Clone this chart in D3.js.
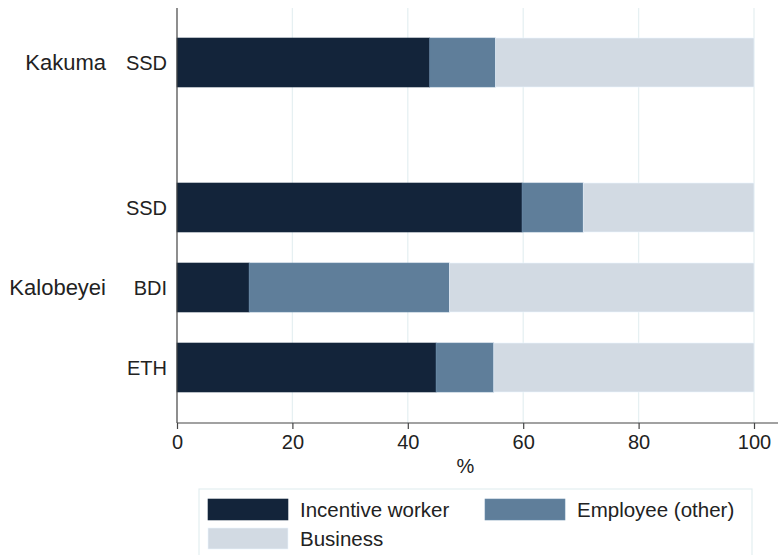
<!DOCTYPE html>
<html>
<head>
<meta charset="utf-8">
<script src="https://cdn.jsdelivr.net/npm/d3@7"></script>
<style>
  body { margin: 0; background: #fff; }
  text { font-family: "Liberation Sans", Arial, sans-serif; fill: #222; }
</style>
</head>
<body>
<script>
// data
var camps = ["Kakuma", "Kalobeyei", "Kalobeyei", "Kalobeyei"];
var countries = ["SSD", "SSD", "BDI", "ETH"];
var incentive = [43.8, 59.8, 12.5, 44.9];
var employee = [11.4, 10.6, 34.7, 10.0];
var business = [44.8, 29.6, 52.8, 45.1];
var seriesNames = ["Incentive worker", "Employee (other)", "Business"];
var colors = ["#13243a", "#5f7e9a", "#d2dae3"];
var xTicks = [0, 20, 40, 60, 80, 100];

var W = 778, H = 555;
var svg = d3.select("body").append("svg")
    .attr("width", W)
    .attr("height", H);

var x0 = 177, x1 = 754, plotTop = 8, plotBottom = 423;
var xScale = d3.scaleLinear().domain([0, 100]).range([x0, x1]);

// rows positioned by index plus an extra gap between camp groups
var groupIdx = [];
var g = 0;
camps.forEach(function(c, i) {
    if (i > 0 && c != camps[i - 1]) g++;
    groupIdx.push(g);
});
var gapExtra = 0.8125;
var pos = countries.map(function(d, i) { return i + groupIdx[i] * gapExtra; });
var yScale = d3.scaleLinear().domain([-0.68125, 4.50625]).range([plotTop, plotBottom]);
var barH = 49;

var rows = countries.map(function(c, i) {
    return {camp: camps[i], country: c, p: pos[i], vals: [incentive[i], employee[i], business[i]]};
});

// gridlines
svg.append("g").selectAll("line")
    .data(xTicks.slice(1))
    .enter().append("line")
    .attr("x1", function(d) { return xScale(d); })
    .attr("x2", function(d) { return xScale(d); })
    .attr("y1", plotTop)
    .attr("y2", plotBottom)
    .attr("stroke", "#e6f0f2")
    .attr("stroke-width", 1.3);

// stacked bars
rows.forEach(function(r) {
    var cum = 0;
    r.vals.forEach(function(v, k) {
        svg.append("rect")
            .attr("x", xScale(cum))
            .attr("y", yScale(r.p) - barH / 2)
            .attr("width", xScale(cum + v) - xScale(cum))
            .attr("height", barH)
            .attr("fill", colors[k])
            .attr("stroke", d3.color(colors[k]).brighter(0.3))
            .attr("stroke-width", 0.6);
        cum += v;
    });
});

// x axis
var xAxis = d3.axisBottom(xScale).tickValues(xTicks).tickSize(6).tickPadding(6);
var gx = svg.append("g")
    .attr("transform", "translate(0," + plotBottom + ")")
    .call(xAxis);
gx.select(".domain").remove();
gx.selectAll(".tick line").attr("stroke", "#444").attr("stroke-width", 1.2);
gx.selectAll("text").attr("font-size", "20px").attr("fill", "#222")
    .attr("font-family", "Liberation Sans, Arial, sans-serif");
svg.append("line")
    .attr("x1", x0).attr("x2", W)
    .attr("y1", plotBottom).attr("y2", plotBottom)
    .attr("stroke", "#444").attr("stroke-width", 1.2);

// y axis line
svg.append("line")
    .attr("x1", x0).attr("x2", x0)
    .attr("y1", plotTop).attr("y2", plotBottom)
    .attr("stroke", "#444").attr("stroke-width", 1.2);

svg.append("text")
    .attr("x", (x0 + x1) / 2)
    .attr("y", 473)
    .attr("text-anchor", "middle")
    .attr("font-size", "20px")
    .text("%");

// country labels
svg.selectAll(".ctry")
    .data(rows)
    .enter().append("text")
    .attr("class", "ctry")
    .attr("x", 167)
    .attr("y", function(d) { return yScale(d.p); })
    .attr("dy", "0.35em")
    .attr("text-anchor", "end")
    .attr("font-size", "20px")
    .text(function(d) { return d.country; });

// camp labels centred on their groups
var groups = d3.groups(rows, function(d) { return d.camp; });
svg.selectAll(".camp")
    .data(groups)
    .enter().append("text")
    .attr("class", "camp")
    .attr("x", 106)
    .attr("y", function(d) { return yScale(d3.mean(d[1], function(r) { return r.p; })); })
    .attr("dy", "0.35em")
    .attr("text-anchor", "end")
    .attr("font-size", "22px")
    .text(function(d) { return d[0]; });

// legend
var leg = svg.append("g");
leg.append("rect")
    .attr("x", 199).attr("y", 489)
    .attr("width", 553).attr("height", 70)
    .attr("fill", "#fff")
    .attr("stroke", "#e3eef0")
    .attr("stroke-width", 1.2);
var legPos = [[208, 499], [485, 499], [208, 528]];
seriesNames.forEach(function(name, k) {
    leg.append("rect")
        .attr("x", legPos[k][0]).attr("y", legPos[k][1])
        .attr("width", 80).attr("height", 21)
        .attr("fill", colors[k])
        .attr("stroke", d3.color(colors[k]).brighter(0.3))
        .attr("stroke-width", 0.6);
    leg.append("text")
        .attr("x", legPos[k][0] + 92)
        .attr("y", legPos[k][1] + 11)
        .attr("dy", "0.35em")
        .attr("font-size", "20.5px")
        .text(name);
});
</script>
</body>
</html>
